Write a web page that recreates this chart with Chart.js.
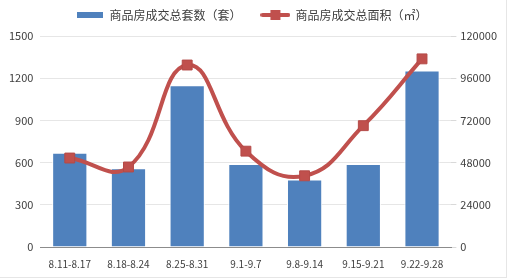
<!DOCTYPE html>
<html>
<head>
<meta charset="utf-8">
<script src="https://cdn.jsdelivr.net/npm/chart.js@4"></script>
<style>
  html, body { margin: 0; padding: 0; background: #fff; }
  #wrap { position: relative; width: 507px; height: 278px; box-sizing: border-box; border-bottom: 1px solid #e6e6e6; border-right: 1px solid #e6e6e6; }
</style>
</head>
<body>
<div id="wrap"><canvas id="mychart1"></canvas></div>
<script>
var weeks = ['8.11-8.17', '8.18-8.24', '8.25-8.31', '9.1-9.7', '9.8-9.14', '9.15-9.21', '9.22-9.28'];
var setsSold = [670, 560, 1150, 590, 480, 590, 1255];
var areaSold = [50600, 45500, 103500, 54500, 40500, 69000, 107000];
var leftTicks = [0, 300, 600, 900, 1200, 1500];
var rightTicks = [0, 24000, 48000, 72000, 96000, 120000];

var barName = '商品房成交总套数（套）';
var lineName = '商品房成交总面积（㎡）';
var blue = '#4F81BD';
var red = '#C0504D';
var font = "'Noto Sans CJK SC', 'Noto Sans', sans-serif";

// legend icons
function barIcon() {
  var c = document.createElement('canvas');
  c.width = 26; c.height = 8;
  var g = c.getContext('2d');
  g.fillStyle = blue;
  g.fillRect(0, 1, 26, 6);
  return c;
}
function lineIcon() {
  var c = document.createElement('canvas');
  c.width = 30; c.height = 10;
  var g = c.getContext('2d');
  g.strokeStyle = red; g.lineWidth = 4; g.lineCap = 'round';
  g.beginPath(); g.moveTo(2, 5); g.lineTo(28, 5); g.stroke();
  g.fillStyle = red;
  g.fillRect(10, 0, 10, 10);
  return c;
}

// give the legend a bit more room below it
var legendGap = {
  id: 'legendGap',
  beforeInit: function(chart) {
    var fit = chart.legend.fit;
    chart.legend.fit = function() {
      fit.bind(chart.legend)();
      this.height += 5;
    };
  }
};

var ctx = document.getElementById('mychart1').getContext('2d');
var mychart = new Chart(ctx, {
  data: {
    labels: weeks,
    datasets: [{
      type: 'line',
      label: lineName,
      data: areaSold,
      yAxisID: 'y1',
      borderColor: red,
      borderWidth: 4,
      tension: 0.45,
      pointStyle: 'rect',
      pointRadius: 7,
      pointBackgroundColor: red,
      pointBorderColor: '#B44A47',
      pointBorderWidth: 1,
      order: 1
    }, {
      type: 'bar',
      label: barName,
      data: setsSold,
      yAxisID: 'y',
      backgroundColor: blue,
      borderColor: '#ffffff',
      borderWidth: 1,
      barPercentage: 0.6,
      categoryPercentage: 1,
      order: 2
    }]
  },
  plugins: [legendGap],
  options: {
    responsive: true,
    maintainAspectRatio: false,
    animation: false,
    layout: { padding: { left: 2, right: 5, top: 0, bottom: 4 } },
    plugins: {
      tooltip: { enabled: false },
      legend: {
        position: 'top',
        labels: {
          usePointStyle: true,
          pointStyleWidth: 28,
          color: '#404040',
          font: { family: font, size: 12 },
          padding: 9,
          generateLabels: function(chart) {
            return [
              { text: barName + '    ', pointStyle: barIcon(), datasetIndex: 1, fontColor: '#404040', lineWidth: 0 },
              { text: lineName, pointStyle: lineIcon(), datasetIndex: 0, fontColor: '#404040', lineWidth: 0 }
            ];
          }
        }
      }
    },
    scales: {
      x: {
        grid: { display: false },
        border: { color: '#8C8C8C' },
        ticks: { color: '#404040', font: { family: font, size: 10 }, maxRotation: 0, autoSkip: false }
      },
      y: {
        position: 'left',
        min: 0, max: 1500,
        afterBuildTicks: function(axis) { axis.ticks = leftTicks.map(function(v) { return { value: v }; }); },
        grid: { color: '#E6E6E6', drawTicks: false },
        border: { display: false },
        ticks: { color: '#404040', font: { family: font, size: 11 }, padding: 7,
          callback: function(v) { return String(v); } }
      },
      y1: {
        position: 'right',
        min: 0, max: 120000,
        afterBuildTicks: function(axis) { axis.ticks = rightTicks.map(function(v) { return { value: v }; }); },
        grid: { drawOnChartArea: false, color: '#D9D9D9', tickLength: 5 },
        border: { display: false },
        ticks: { color: '#404040', font: { family: font, size: 11 }, padding: 4,
          callback: function(v) { return String(v); } }
      }
    }
  }
});
</script>
</body>
</html>
